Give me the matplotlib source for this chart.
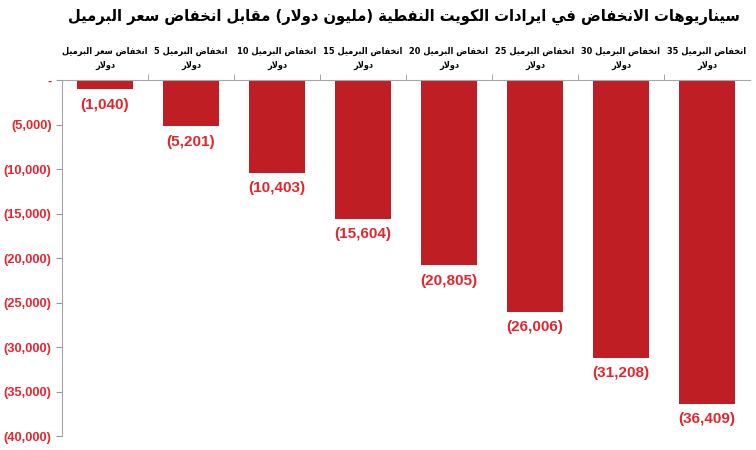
import matplotlib
matplotlib.use('Agg')
import matplotlib.pyplot as plt
from matplotlib.ticker import FuncFormatter, FixedLocator

# data
categories = [
    'انخفاض سعر البرميل\nدولار',
    'انخفاض البرميل 5\nدولار',
    'انخفاض البرميل 10\nدولار',
    'انخفاض البرميل 15\nدولار',
    'انخفاض البرميل 20\nدولار',
    'انخفاض البرميل 25\nدولار',
    'انخفاض البرميل 30\nدولار',
    'انخفاض البرميل 35\nدولار',
]
values = [-1040, -5201, -10403, -15604, -20805, -26006, -31208, -36409]
title = 'سيناريوهات الانخفاض في ايرادات الكويت النفطية (مليون دولار) مقابل انخفاض سعر البرميل'

BAR_COLOR = '#be1e24'
LABEL_RED = '#e3262d'

# --- tiny arabic shaping (matplotlib has no bidi / joining support) ---
# letter: (first presentation form, number of forms)
FORMS = {
    'ء': (0xFE80, 1), 'آ': (0xFE81, 2), 'أ': (0xFE83, 2), 'ؤ': (0xFE85, 2),
    'إ': (0xFE87, 2), 'ئ': (0xFE89, 4), 'ا': (0xFE8D, 2), 'ب': (0xFE8F, 4),
    'ة': (0xFE93, 2), 'ت': (0xFE95, 4), 'ث': (0xFE99, 4), 'ج': (0xFE9D, 4),
    'ح': (0xFEA1, 4), 'خ': (0xFEA5, 4), 'د': (0xFEA9, 2), 'ذ': (0xFEAB, 2),
    'ر': (0xFEAD, 2), 'ز': (0xFEAF, 2), 'س': (0xFEB1, 4), 'ش': (0xFEB5, 4),
    'ص': (0xFEB9, 4), 'ض': (0xFEBD, 4), 'ط': (0xFEC1, 4), 'ظ': (0xFEC5, 4),
    'ع': (0xFEC9, 4), 'غ': (0xFECD, 4), 'ف': (0xFED1, 4), 'ق': (0xFED5, 4),
    'ك': (0xFED9, 4), 'ل': (0xFEDD, 4), 'م': (0xFEE1, 4), 'ن': (0xFEE5, 4),
    'ه': (0xFEE9, 4), 'و': (0xFEED, 2), 'ى': (0xFEEF, 2), 'ي': (0xFEF1, 4),
    # lam-alef ligatures, stored as private keys
    'LA': (0xFEFB, 2), 'LA_HAMZA': (0xFEF7, 2),
}


def shape_word(word):
    chars = []
    i = 0
    while i < len(word):
        c = word[i]
        if c == 'ل' and i + 1 < len(word) and word[i + 1] in 'اأ':
            chars.append('LA' if word[i + 1] == 'ا' else 'LA_HAMZA')
            i += 2
        else:
            chars.append(c)
            i += 1
    out = []
    for k, c in enumerate(chars):
        if c not in FORMS:
            out.append(c)
            continue
        base, n = FORMS[c]
        prev = chars[k - 1] if k > 0 else None
        nxt = chars[k + 1] if k + 1 < len(chars) else None
        jp = prev in FORMS and FORMS[prev][1] == 4
        jn = n == 4 and nxt in FORMS
        if jp and jn:
            off = 3
        elif jp and n > 1:
            off = 1
        elif jn:
            off = 2
        else:
            off = 0
        out.append(chr(base + off))
    return ''.join(out)


def ar(text):
    lines = []
    for line in text.split('\n'):
        words = []
        for w in reversed(line.split(' ')):
            if any(ch in FORMS for ch in w):
                s = shape_word(w)[::-1]
                s = s.replace('(', '\0').replace(')', '(').replace('\0', ')')
                words.append(s)
            else:
                words.append(w)
        lines.append(' '.join(words))
    return '\n'.join(lines)


def acct(v, pos=None):
    if v == 0:
        return '-'
    if v < 0:
        return '({:,.0f})'.format(-v)
    return '{:,.0f}'.format(v)


plt.rcParams['font.family'] = ['Liberation Sans', 'DejaVu Sans']

fig = plt.figure(figsize=(7.56, 4.5), dpi=100)
ax = fig.add_axes([0.082, 0.031, 0.91, 0.791])

x = list(range(len(values)))
bars = ax.bar(x, values, width=0.65, color=BAR_COLOR)

for xi, v in zip(x, values):
    ax.annotate(acct(v), (xi, v), xytext=(0, -6), textcoords='offset points',
                ha='center', va='top', fontsize=11, fontweight='bold',
                color=LABEL_RED)

ax.set_xlim(-0.5, len(values) - 0.5)
ax.set_ylim(-40000, 0)
ax.set_yticks(range(-40000, 1, 5000))
ax.yaxis.set_major_formatter(FuncFormatter(acct))
ax.tick_params(axis='y', labelsize=9.3, labelcolor=LABEL_RED, color='#999999',
               length=4)
for t in ax.get_yticklabels():
    t.set_fontweight('bold')

ax.xaxis.tick_top()
ax.set_xticks(x)
ax.set_xticklabels([ar(c) for c in categories], fontsize=6.6,
                   fontweight='bold', family=['DejaVu Sans'],
                   fontstretch='condensed', linespacing=1.8)
ax.xaxis.set_minor_locator(FixedLocator([i + 0.5 for i in x[:-1]]))
ax.tick_params(axis='x', which='major', length=0, pad=7)
ax.tick_params(axis='x', which='minor', length=4, color='#999999')

for s in ['bottom', 'right']:
    ax.spines[s].set_visible(False)
for s in ['top', 'left']:
    ax.spines[s].set_color('#a6a6a6')

fig.text(0.534, 0.962, ar(title), ha='center', va='center', fontsize=11.8,
         fontweight='bold', family=['DejaVu Sans'], fontstretch='condensed')

fig.savefig('out.png', dpi=100)
